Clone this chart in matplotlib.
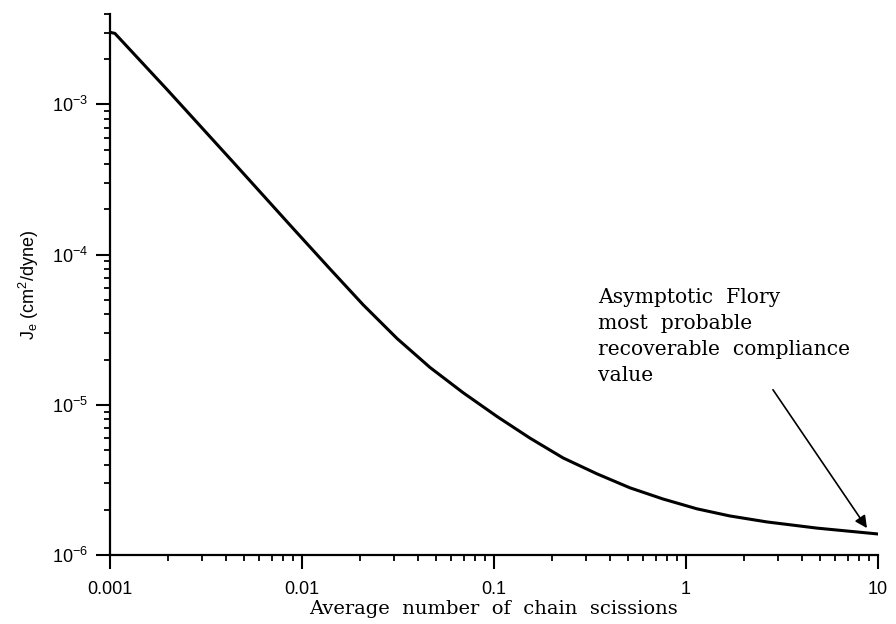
import matplotlib
matplotlib.use('Agg')
import matplotlib.pyplot as plt
from matplotlib.ticker import LogLocator, NullFormatter

# Шрифты: подписи делений рубленым, текст с засечками
plt.rcParams['font.family'] = 'Liberation Sans'
plt.rcParams['mathtext.fontset'] = 'custom'
plt.rcParams['mathtext.rm'] = 'Liberation Sans'
plt.rcParams['mathtext.it'] = 'Liberation Sans'

# Среднее число разрывов цепи и равновесная податливость J_e (см^2/дин)
scissions = [0.001, 0.00106, 0.002, 0.0044, 0.009, 0.014, 0.0208, 0.0313,
             0.0465, 0.069, 0.104, 0.154, 0.229, 0.344, 0.511, 0.759, 1.14,
             1.69, 2.64, 4.81, 10]
compliance = [3.02e-3, 2.97e-3, 1.24e-3, 4.1e-4, 1.49e-4, 8.02e-5, 4.64e-5,
              2.76e-5, 1.77e-5, 1.205e-5, 8.34e-6, 6.0e-6, 4.43e-6, 3.47e-6,
              2.8e-6, 2.36e-6, 2.03e-6, 1.82e-6, 1.66e-6, 1.51e-6, 1.38e-6]

x_ticks = [0.001, 0.01, 0.1, 1, 10]
x_tick_labels = ['0.001', '0.01', '0.1', '1', '10']
y_ticks = [1e-6, 1e-5, 1e-4, 1e-3]
y_tick_labels = [r'$10^{-6}$', r'$10^{-5}$', r'$10^{-4}$', r'$10^{-3}$']

fig = plt.figure(figsize=(8.96, 6.24), dpi=100)
ax = fig.add_axes([0.1228, 0.1106, 0.857, 0.867])

ax.plot(scissions, compliance, color='black', lw=2.2,
        solid_joinstyle='round', solid_capstyle='round')

ax.set_xscale('log')
ax.set_yscale('log')
ax.set_xlim(0.001, 10)
ax.set_ylim(1e-6, 4e-3)

ax.set_xticks(x_ticks)
ax.set_xticklabels(x_tick_labels)
ax.set_yticks(y_ticks)
ax.set_yticklabels(y_tick_labels)
ax.xaxis.set_minor_locator(LogLocator(base=10, subs=range(2, 10)))
ax.yaxis.set_minor_locator(LogLocator(base=10, subs=range(2, 10)))
ax.xaxis.set_minor_formatter(NullFormatter())
ax.yaxis.set_minor_formatter(NullFormatter())

ax.tick_params(which='major', direction='out', length=10, width=1.5,
               labelsize=13)
ax.tick_params(which='minor', direction='out', length=4.5, width=1.3)
ax.tick_params(axis='x', which='major', pad=9)
ax.tick_params(axis='y', which='major', pad=6)

ax.spines['top'].set_visible(False)
ax.spines['right'].set_visible(False)
ax.spines['left'].set_linewidth(1.6)
ax.spines['bottom'].set_linewidth(1.6)

ax.set_xlabel('Average  number  of  chain  scissions', fontsize=14,
              family='DejaVu Serif', labelpad=1)
ax.set_ylabel(r'J$_{\mathrm{e}}$ (cm$^{2}$/dyne)', fontsize=13, labelpad=8)

# Подпись асимптотического значения со стрелкой
ax.text(0.348, 5.95e-5,
        'Asymptotic  Flory\nmost  probable\nrecoverable  compliance\nvalue',
        family='DejaVu Serif', fontsize=14.6, va='top', ha='left',
        linespacing=1.46)
ax.annotate('', xy=(8.77, 1.51e-6), xytext=(2.84, 1.26e-5),
            arrowprops=dict(arrowstyle='-|>', color='black', lw=1.2,
                            mutation_scale=18, shrinkA=0, shrinkB=0))

fig.savefig('out.png', dpi=100)
